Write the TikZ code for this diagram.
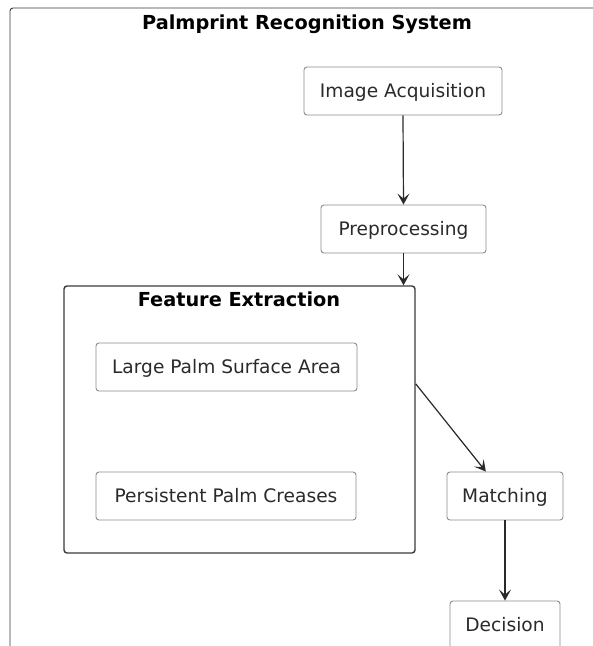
\documentclass[tikz,border=0pt]{standalone}
\usepackage{fontspec}
\setmainfont{DejaVu Sans}
\usetikzlibrary{arrows.meta,calc}
\definecolor{boxline}{HTML}{8C8C8C}
\definecolor{frameline}{HTML}{3A3A3A}
\definecolor{txt}{HTML}{2A2A2A}
\tikzset{
  stepbox/.style={draw=boxline, line width=0.9pt, rounded corners=3pt, fill=white,
    inner sep=0pt, minimum height=48pt, text=txt,
    text height=13.6pt, text depth=0pt,
    font=\fontsize{18.6}{21}\selectfont},
  groupbox/.style={draw=frameline, line width=1.4pt, rounded corners=3pt,
    inner sep=0pt},
  grouptitle/.style={font=\fontsize{19.3}{22}\selectfont\bfseries, text=black,
    inner sep=0pt, text height=14pt, text depth=0pt},
  flow/.style={draw=txt, line width=1.2pt,
    -{Stealth[length=11pt,width=12pt,inset=5pt]}}
}
\begin{document}
\begin{tikzpicture}[x=1pt,y=-1pt]
\useasboundingbox (0,0) rectangle (593,646);
% outer system frame (runs past the right and bottom edges)
\node[draw=frameline, line width=0.9pt, rounded corners=3pt, inner sep=0pt,
      minimum width=640pt, minimum height=700pt] (sys) at (330,358) {};
\node[grouptitle] (systitle) at (307,22) {Palmprint Recognition System};

% pipeline steps
\node[stepbox, minimum width=198pt] (acq) at (403,91) {Image Acquisition};
\node[stepbox, minimum width=165pt] (pre) at (403.5,229) {Preprocessing};

% feature extraction group
\node[groupbox, minimum width=351pt, minimum height=267pt] (fe) at (239.5,419.5) {};
\node[grouptitle] (fetitle) at (239,299) {Feature Extraction};
\node[stepbox, minimum width=261pt] (lpsa) at (226.5,367) {Large Palm Surface Area};
\node[stepbox, minimum width=260pt] (ppc) at (226,496) {Persistent Palm Creases};

\node[stepbox, minimum width=116pt] (mat) at (505,496) {Matching};
\node[stepbox, minimum width=110pt] (dec) at (505,625) {Decision};

% connectors
\draw[flow] (acq.south) -- (pre.north);
\draw[flow] (pre.south) -- (pre.south |- fe.north);
\coordinate (feout) at ($(fe.north east)!0.367!(fe.south east)$);
\coordinate (matin) at ($(mat.north west)!0.336!(mat.north east)$);
\draw[flow] (feout) -- (matin);
\draw[flow] (mat.south) -- (dec.north);
\end{tikzpicture}
\end{document}
